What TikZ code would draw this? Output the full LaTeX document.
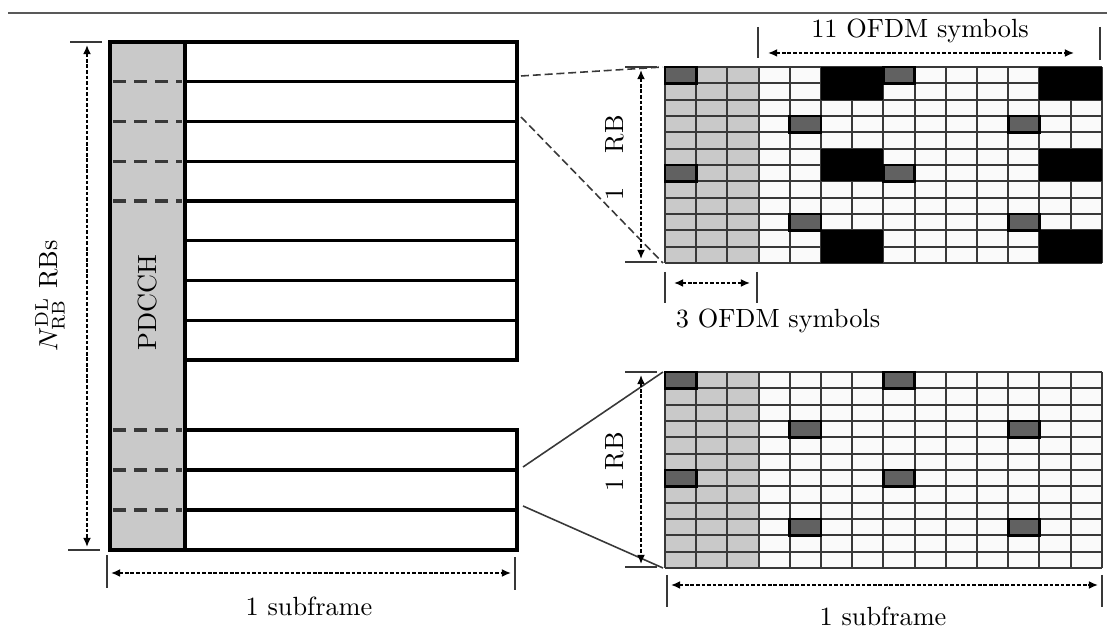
\documentclass[tikz,border=0pt]{standalone}
\usepackage{amsmath}
\usepackage{tikz}
\usetikzlibrary{arrows.meta, positioning, calc}

\definecolor{ctrlgray}{gray}{0.79}
\definecolor{refgray}{gray}{0.38}
\definecolor{linegray}{gray}{0.22}
\definecolor{cellwhite}{gray}{0.98}

\begin{document}
\begin{tikzpicture}[x=0.38pt, y=-0.38pt,
    frame/.style={line width=1.2pt},
    ctrldash/.style={line width=1.2pt, linegray, dash pattern=on 5pt off 3pt},
    gridline/.style={line width=0.75pt, linegray},
    refcell/.style={fill=refgray, draw=black, line width=1.1pt},
    tick/.style={line width=0.8pt, linegray},
    span/.style={line width=0.6pt, dash pattern=on 1.4pt off 0.7pt,
        {Latex[length=3.5pt,width=3pt]}-{Latex[length=3.5pt,width=3pt]}},
    zoomline/.style={line width=0.6pt, linegray},
    lbl/.style={inner sep=0pt, font=\normalsize}]

    \useasboundingbox (0,0) rectangle (1107,640);

    % page rule
    \draw[line width=0.6pt, gray!70!black] (8,13) -- (1107,13);

    % ---- resource blocks of one subframe ----
    \fill[ctrlgray] (110,42) rectangle (185,550);
    \foreach \i in {0,...,7}
        \draw[frame] (185,{42+39.75*\i}) rectangle (517,{81.75+39.75*\i});
    \foreach \i in {0,1,2}
        \draw[frame] (185,{430+40*\i}) rectangle (517,{470+40*\i});
    \draw[frame] (110,42) rectangle (185,550);
    \foreach \y in {81.75,121.5,161.25,201,430,470,510}
        \draw[ctrldash] (113,\y) -- (182,\y);
    \node[lbl, rotate=90] (pdcch) at (148,303) {PDCCH};

    % number of RBs
    \draw[tick] (70,42) -- (102,42);
    \draw[tick] (68,550) -- (100,550);
    \coordinate (nrb-top) at (87,45);
    \coordinate (nrb-bot) at (87,547);
    \draw[span] (nrb-top) -- (nrb-bot);
    \node[lbl, rotate=90] (nrb) at (50,296) {$N_{\mathrm{RB}}^{\mathrm{DL}}$ RBs};

    % subframe length
    \draw[tick] (107,555) -- (107,588);
    \draw[tick] (515,557) -- (515,590);
    \coordinate (sf-l) at (111,573);
    \coordinate (sf-r) at (511,573);
    \draw[span] (sf-l) -- (sf-r);
    \node[lbl, anchor=base] (sf) at (309,615) {1 subframe};

    % ---- zoomed RBs: 14 symbols x 12 subcarriers ----
    \foreach \gy/\blk in {67/1, 372/0} {
      \begin{scope}[shift={(665,\gy)}]
        \fill[cellwhite] (0,0) rectangle (436.8,196);
        \fill[ctrlgray] (0,0) rectangle (93.6,196);
        \foreach \c in {0,...,14}
            \draw[gridline] ({31.2*\c},0) -- ({31.2*\c},196);
        \foreach \r in {0,...,12}
            \draw[gridline] (0,{16.333*\r}) -- (436.8,{16.333*\r});
        \ifnum\blk=1
          \foreach \c in {5,12}
            \foreach \r in {0,5,10}
              \fill[black] ({31.2*\c},{16.333*\r}) rectangle ++(62.4,32.67);
        \fi
        \foreach \c/\r in {0/0,7/0,4/3,11/3,0/6,7/6,4/9,11/9}
            \draw[refcell] ({31.2*\c},{16.333*\r}) rectangle ++(31.2,16.333);
      \end{scope}
    }

    % grid corners
    \coordinate (up-nw) at (663,67);
    \coordinate (up-sw) at (663,263);
    \coordinate (lo-nw) at (663,372);
    \coordinate (lo-sw) at (663,568);

    % zoom connectors
    \coordinate (rb-a) at (521,76);
    \coordinate (rb-b) at (521,117);
    \coordinate (rb-c) at (523,467);
    \coordinate (rb-d) at (523,506);
    \draw[zoomline, dash pattern=on 3pt off 1.5pt] (rb-a) -- (up-nw);
    \draw[zoomline, dash pattern=on 3pt off 1.5pt] (rb-b) -- (up-sw);
    \draw[zoomline] (rb-c) -- (lo-nw);
    \draw[zoomline] (rb-d) -- (lo-sw);

    % upper grid labels
    \draw[tick] (758,27) -- (758,58);
    \draw[tick] (1100,27) -- (1100,60);
    \coordinate (d11-l) at (768,53);
    \coordinate (d11-r) at (1074,53);
    \draw[span] (d11-l) -- (d11-r);
    \node[lbl, anchor=base] (ofdm11) at (920,38) {11 OFDM symbols};

    \draw[tick] (625,67) -- (657,67);
    \draw[tick] (625,262) -- (657,262);
    \coordinate (rb1-top) at (641,70);
    \coordinate (rb1-bot) at (641,259);
    \draw[span] (rb1-top) -- (rb1-bot);
    \node[lbl, rotate=90] (rb1) at (615,158) {1\hspace{13pt}RB};

    \draw[tick] (665,272) -- (665,303);
    \draw[tick] (757,272) -- (757,303);
    \coordinate (d3-l) at (674,283);
    \coordinate (d3-r) at (750,283);
    \draw[span] (d3-l) -- (d3-r);
    \node[lbl, anchor=base] (ofdm3) at (778,328) {3 OFDM symbols};

    % lower grid labels
    \draw[tick] (625,372) -- (657,372);
    \draw[tick] (625,567) -- (657,567);
    \coordinate (rb2-top) at (641,375);
    \coordinate (rb2-bot) at (641,564);
    \draw[span] (rb2-top) -- (rb2-bot);
    \node[lbl, rotate=90] (rb2) at (615,462) {1 RB};

    \draw[tick] (667,575) -- (667,607);
    \draw[tick] (1102,575) -- (1102,607);
    \coordinate (sf2-l) at (671,585);
    \coordinate (sf2-r) at (1098,585);
    \draw[span] (sf2-l) -- (sf2-r);
    \node[lbl, anchor=base] (sf2) at (883,625) {1 subframe};
\end{tikzpicture}
\end{document}
